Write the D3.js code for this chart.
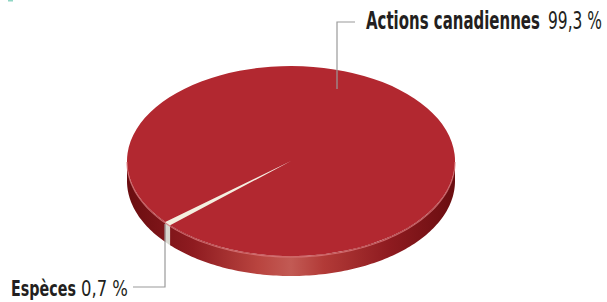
<!DOCTYPE html>
<html>
<head>
<meta charset="utf-8">
<script src="https://cdn.jsdelivr.net/npm/d3@7"></script>
<style>
  body { margin: 0; background: #fff; }
  svg { display: block; }
</style>
</head>
<body>
<script>
  const categories = ["Espèces", "Actions canadiennes"];
  const values = [0.7, 99.3];
  const valueLabels = ["0,7 %", "99,3 %"];
  const topColors = ["#f4efdf", "#b22830"];

  const width = 607, height = 302;
  const cx = 291, cy = 161, rx = 164, ry = 95, depth = 20;
  const startDeg = 227.5;

  const svg = d3.select("body").append("svg")
    .attr("width", width)
    .attr("height", height);

  const defs = svg.append("defs");
  const grad = defs.append("linearGradient")
    .attr("id", "sideRed")
    .attr("gradientUnits", "userSpaceOnUse")
    .attr("x1", cx - rx).attr("x2", cx + rx)
    .attr("y1", 0).attr("y2", 0);
  [[0, "#6a0d10"], [0.2, "#8e1b20"], [0.4, "#b9443f"], [0.5, "#c25a54"],
   [0.6, "#b23a37"], [0.8, "#8e1b20"], [1, "#6a0d10"]].forEach(s => {
    grad.append("stop").attr("offset", s[0]).attr("stop-color", s[1]);
  });

  // tiny mark at top-left corner
  svg.append("rect").attr("x", 8).attr("y", 0).attr("width", 5).attr("height", 1.5)
    .attr("fill", "#8fd6c4");

  const pie = d3.pie().sort(null).value(d => d)
    .startAngle(startDeg * Math.PI / 180)
    .endAngle(startDeg * Math.PI / 180 + 2 * Math.PI);
  const arcs = pie(values);

  const px = a => cx + rx * Math.sin(a);
  const py = a => cy - ry * Math.cos(a);

  // side walls (front half only)
  const line = d3.line();
  function sidePath(a0, a1) {
    const n = Math.max(2, Math.ceil((a1 - a0) / 0.02));
    const angs = d3.range(n + 1).map(i => a0 + (a1 - a0) * i / n);
    const top = angs.map(a => [px(a), py(a)]);
    const bot = angs.slice().reverse().map(a => [px(a), py(a) + depth]);
    return line(top.concat(bot)) + "Z";
  }
  const sides = svg.append("g");
  arcs.forEach((d, i) => {
    for (let k = 0; k < 2; k++) {
      const lo = Math.max(d.startAngle, Math.PI / 2 + 2 * Math.PI * k);
      const hi = Math.min(d.endAngle, 3 * Math.PI / 2 + 2 * Math.PI * k);
      if (hi > lo) {
        sides.append("path")
          .attr("d", sidePath(lo, hi))
          .attr("fill", i === 0 ? "#d8d8d0" : "url(#sideRed)");
      }
    }
  });

  // top face
  const arc = d3.arc().innerRadius(0).outerRadius(rx);
  svg.append("g")
    .attr("transform", `translate(${cx},${cy}) scale(1,${ry / rx})`)
    .selectAll("path")
    .data(arcs)
    .join("path")
      .attr("d", arc)
      .attr("fill", (d, i) => topColors[i]);

  // light rim on the front edge
  const rim = d3.range(0, 101).map(i => {
    const a = Math.PI / 2 + Math.PI * i / 100;
    return [px(a), py(a) + 1];
  });
  svg.append("path").attr("d", line(rim)).attr("fill", "none")
    .attr("stroke", "#d9777a").attr("stroke-width", 1.2).attr("opacity", 0.8);

  // leader lines
  const lead = svg.append("g").attr("fill", "none").attr("stroke", "#9a9a9a").attr("stroke-width", 1.2);
  lead.append("path").attr("d", "M337,89V22H355");
  lead.append("path").attr("d", "M165,224V287H133");

  // labels: bold name + regular value, squeezed horizontally to the condensed widths
  const font = "'DejaVu Sans Condensed', 'Liberation Sans Narrow', sans-serif";
  const labelPos = [
    { nx: 11, nw: 65, vx: 81, vw: 47, y: 296, fs: 22 },
    { nx: 366, nw: 174, vx: 548, vw: 54, y: 29, fs: 24 }
  ];
  function squeezed(str, x, y, w, fs, bold) {
    const t = svg.append("text")
      .attr("font-family", font).attr("font-size", fs)
      .attr("font-weight", bold ? "bold" : "normal")
      .attr("fill", "#231f20")
      .text(str);
    const natural = t.node().getComputedTextLength();
    t.attr("transform", `translate(${x},${y}) scale(${w / natural},1)`);
  }
  categories.forEach((c, i) => {
    const p = labelPos[i];
    squeezed(c, p.nx, p.y, p.nw, p.fs, true);
    squeezed(valueLabels[i], p.vx, p.y, p.vw, p.fs, false);
  });
</script>
</body>
</html>
